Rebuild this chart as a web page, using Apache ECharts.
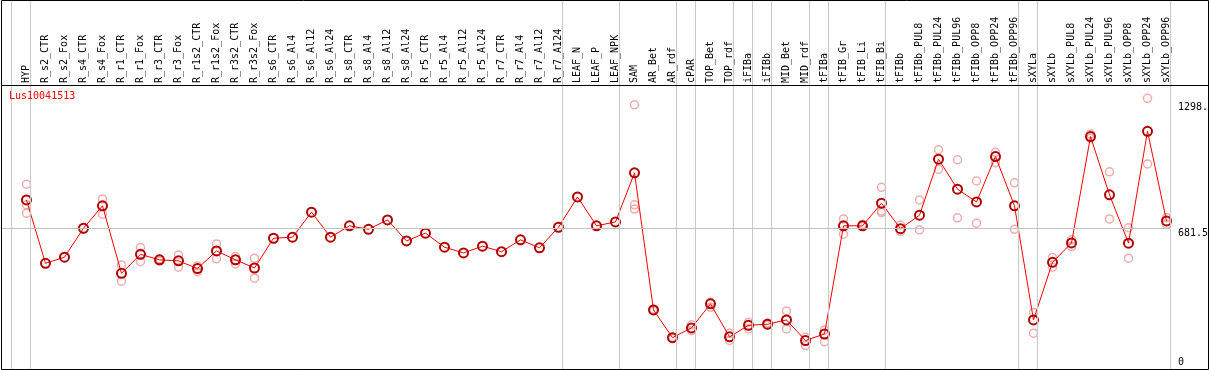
<!DOCTYPE html>
<html>
<head>
<meta charset="utf-8">
<script src="https://cdn.jsdelivr.net/npm/echarts@6/dist/echarts.min.js"></script>
<style>
html,body{margin:0;padding:0;background:#fff;}
#chart{width:1209px;height:370px;}
</style>
</head>
<body>
<div id="chart"></div>
<script>
const categories = ["HYP","R_s2_CTR","R_s2_Fox","R_s4_CTR","R_s4_Fox","R_r1_CTR","R_r1_Fox","R_r3_CTR","R_r3_Fox","R_r1s2_CTR","R_r1s2_Fox","R_r3s2_CTR","R_r3s2_Fox","R_s6_CTR","R_s6_Al4","R_s6_Al12","R_s6_Al24","R_s8_CTR","R_s8_Al4","R_s8_Al12","R_s8_Al24","R_r5_CTR","R_r5_Al4","R_r5_Al12","R_r5_Al24","R_r7_CTR","R_r7_Al4","R_r7_Al12","R_r7_A124","LEAF_N","LEAF_P","LEAF_NPK","SAM","AR_Bet","AR_rdf","cPAR","TOP_Bet","TOP_rdf","iFIBa","iFIBb","MID_Bet","MID_rdf","tFIBa","tFIB_Gr","tFIB_Li","tFIB_Bi","tFIBb","tFIBb_PUL8","tFIBb_PUL24","tFIBb_PUL96","tFIBb_OPP8","tFIBb_OPP24","tFIBb_OPP96","sXYLa","sXYLb","sXYLb_PUL8","sXYLb_PUL24","sXYLb_PUL96","sXYLb_OPP8","sXYLb_OPP24","sXYLb_OPP96"];

const meanValues = [820,509,539,681,791,460,553,526,521,483,570,526,486,632,637,760,637,693,676,722,619,657,588,560,593,566,624,585,686,835,693,712,953,280,144,192,310,148,205,210,231,130,162,693,693,804,679,745,1020,873,810,1033,791,231,514,609,1131,845,608,1157,717];

const replicateValues = [
  [897,796,755],[],[],[],[825,750],[501,421],[586,517],[530,520],[550,490],[496,468],
  [604,531],[542,506],[534,436],[],[],[],[],[],[],[],
  [],[],[],[],[],[],[],[],[],[],
  [],[],[1287,796,775],[284,276],[146,140],[207,179],[318,293],[166,130],[220,187],[216,205],
  [275,187],[146,105],[182,123],[727,652],[701,690],[882,766,758],[697,665],[820,673],[1066,971],[1017,732],
  [913,706],[1054,1003],[904,676],[267,166],[537,490],[624,591],[1144,1123],[958,727],[684,534],[1319,997],
  [733,701]
];

const yTickValues = [0, 681.5, 1298];
const referenceLineValue = 681.5;
const groupSeparatorsAfter = [-1,0,28,31,34,35,37,38,39,41,42,45,52,53,60];
const titleText = "Lus10041513";

// layout constants
const X_MIN = -1.3421, X_MAX = 60.1842, Y_MAX = 1379.3, SEP_OFFSET = 0.184;
const MONO = "DejaVu Sans Mono";

const meanData = meanValues.map((v, i) => [i, v]);
const repData = [];
replicateValues.forEach((arr, i) => arr.forEach(v => repData.push([i, v])));

const chart = echarts.init(document.getElementById('chart'), null, {renderer: 'canvas'});
chart.setOption({
  animation: false,
  backgroundColor: '#fff',
  title: {
    text: titleText, left: 9, top: 91, padding: 0,
    textStyle: {color: '#ff0000', fontSize: 10, fontFamily: MONO, fontWeight: 'normal'}
  },
  grid: [
    {left: 1, right: 39, top: 86, bottom: 3, outerBoundsMode: 'none', containLabel: false},
    {left: 1, right: 39, top: 0, bottom: 1, outerBoundsMode: 'none', containLabel: false}
  ],
  xAxis: [
    {
      type: 'value', gridIndex: 0, position: 'top', min: X_MIN, max: X_MAX,
      axisLine: {show: false}, axisTick: {show: false}, splitLine: {show: false},
      axisLabel: {
        customValues: categories.map((_, i) => i),
        formatter: v => categories[Math.round(v)],
        rotate: 90, margin: 3, fontSize: 10, fontFamily: MONO, color: '#000',
        hideOverlap: false
      }
    },
    {type: 'value', gridIndex: 1, min: X_MIN, max: X_MAX, show: false}
  ],
  yAxis: [
    {
      type: 'value', gridIndex: 0, position: 'right', min: 0, max: Y_MAX,
      axisLine: {show: false}, axisTick: {show: false}, splitLine: {show: false},
      axisLabel: {
        customValues: yTickValues.filter(v => v !== 0),
        formatter: v => (v === 0 ? '0' : v.toFixed(1)),
        verticalAlign: 'top', align: 'left', margin: 8,
        fontSize: 10, fontFamily: MONO, color: '#000'
      }
    },
    {
      type: 'value', gridIndex: 0, position: 'right', min: 0, max: Y_MAX,
      axisLine: {show: false}, axisTick: {show: false}, splitLine: {show: false},
      axisLabel: {
        customValues: yTickValues.filter(v => v === 0),
        formatter: v => String(v),
        verticalAlign: 'bottom', align: 'left', margin: 8,
        fontSize: 10, fontFamily: MONO, color: '#000'
      }
    },
    {type: 'value', gridIndex: 1, min: 0, max: 1, show: false}
  ],
  series: [
    {
      type: 'line', xAxisIndex: 1, yAxisIndex: 2, data: [], silent: true,
      markLine: {
        silent: true, symbol: 'none', label: {show: false},
        lineStyle: {color: '#c8c8c8', width: 1, type: 'solid'},
        data: groupSeparatorsAfter.map(i => ({xAxis: i + SEP_OFFSET}))
      }
    },
    {
      type: 'scatter', xAxisIndex: 0, yAxisIndex: 0, data: repData, z: 3,
      symbol: 'circle', symbolSize: 8,
      itemStyle: {color: 'rgba(0,0,0,0)', borderColor: '#ee9999', borderWidth: 1.5}
    },
    {
      type: 'line', xAxisIndex: 0, yAxisIndex: 0, data: meanData, z: 4,
      symbol: 'circle', symbolSize: 9, showSymbol: true,
      lineStyle: {color: '#ff0000', width: 1},
      itemStyle: {color: 'rgba(0,0,0,0)', borderColor: '#b00000', borderWidth: 2},
      markLine: {
        silent: true, symbol: 'none', label: {show: false},
        lineStyle: {color: '#c0c0c0', width: 1, type: 'solid'},
        data: [{yAxis: referenceLineValue}]
      }
    }
  ],
  graphic: [
    {type: 'rect', z: 100, silent: true, shape: {x: 1.5, y: 0.5, width: 1207, height: 369},
     style: {fill: null, stroke: '#000', lineWidth: 1}},
    {type: 'line', z: 100, silent: true, shape: {x1: 1, y1: 85.5, x2: 1209, y2: 85.5},
     style: {stroke: '#000', lineWidth: 1}}
  ]
});
</script>
</body>
</html>
